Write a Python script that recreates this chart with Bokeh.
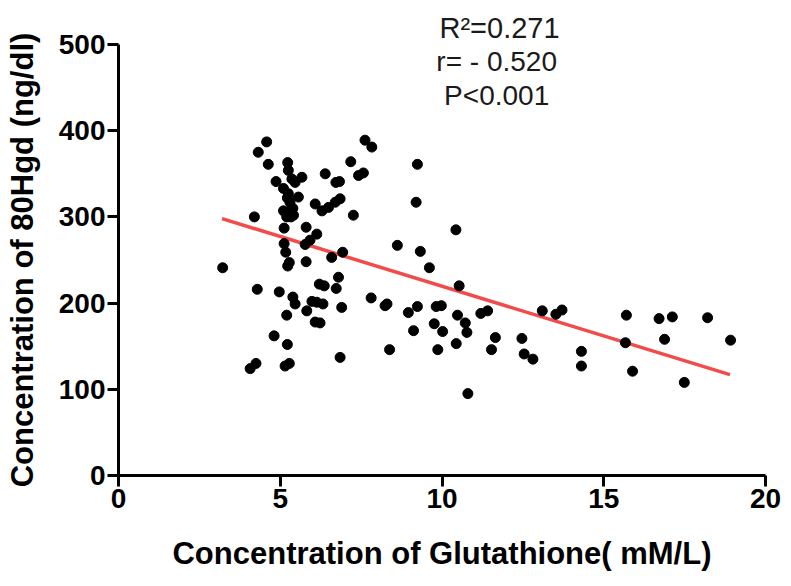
from bokeh.plotting import figure
from bokeh.models import Range1d, Label, FixedTicker, Title
from bokeh.embed import file_html
from bokeh.resources import INLINE

# Glutathione (mM/L)
gsh = [4.58, 4.32, 4.63, 5.23, 5.25, 4.87, 5.36, 5.67, 5.46, 5.10, 5.25, 5.22, 5.56, 5.30,
       5.10, 5.25, 5.41, 5.20, 5.39, 5.33, 4.20, 6.39, 6.83, 6.72, 7.18, 7.42, 7.57, 7.62,
       7.83, 6.85, 6.70, 6.08, 6.29, 6.49, 7.26, 5.12, 5.80, 6.13, 5.92, 5.77, 5.12, 5.17,
       3.22, 5.28, 5.23, 5.80, 6.59, 6.93, 6.80, 6.21, 6.36, 6.73, 4.29, 4.97, 5.39, 5.46,
       5.98, 6.13, 6.32, 5.82, 6.90, 7.81, 5.20, 6.08, 6.23, 4.81, 5.22, 4.25, 4.07, 5.28,
       5.15, 6.85,
       9.24, 9.20, 10.43, 8.62, 9.33, 9.61, 10.53, 8.24, 8.30, 8.96, 9.24, 9.82, 9.98,
       10.48, 10.72, 9.76, 10.02, 9.12, 10.77, 11.20, 11.41, 11.65, 8.38, 9.87, 10.44,
       11.53, 12.47, 12.54, 12.81, 10.80, 13.10, 13.52, 13.71, 14.31, 14.31, 15.70, 15.67,
       15.89, 16.71, 17.12, 16.88, 17.49, 18.21, 18.92]
# 8OHdG (ng/dl)
ohdg = [387, 375, 361, 363, 354, 341, 344, 346, 340, 333, 327, 322, 323, 317,
        307, 305, 302, 300, 310, 300, 300, 350, 341, 340, 364, 348, 351, 389,
        381, 321, 317, 315, 307, 311, 302, 287, 288, 280, 273, 268, 269, 259,
        241, 247, 243, 248, 253, 259, 230, 222, 220, 217, 216, 213, 207, 199,
        202, 201, 199, 191, 195, 206, 186, 178, 177, 162, 152, 130, 124, 130,
        127, 137,
        361, 317, 285, 267, 260, 241, 220, 197, 199, 189, 196, 196, 197,
        186, 177, 176, 167, 168, 166, 188, 191, 160, 146, 146, 153,
        146, 159, 141, 135, 95, 191, 187, 192, 144, 127, 186, 154,
        121, 182, 184, 158, 108, 183, 157]

# fitted regression line end points
fit_x = [3.2, 18.9]
fit_y = [298, 117]

x_ticks = [0, 5, 10, 15, 20]
y_ticks = [0, 100, 200, 300, 400, 500]

stats = ["R\u00b2=0.271", "r= - 0.520", "P<0.001"]

W, H = 790, 585
p = figure(width=W, height=H, output_backend="svg", toolbar_location=None,
           x_range=Range1d(0, 20), y_range=Range1d(0, 500),
           min_border_left=118, min_border_right=W - 765, min_border_top=44,
           min_border_bottom=H - 475)
p.outline_line_color = None
p.grid.visible = False
p.background_fill_color = "white"
p.border_fill_color = "white"

for ax in (p.xaxis[0], p.yaxis[0]):
    ax.axis_line_width = 3
    ax.axis_line_color = "black"
    ax.major_tick_line_width = 3
    ax.major_tick_line_color = "black"
    ax.major_tick_in = 0
    ax.major_tick_out = 11
    ax.minor_tick_line_color = None
    ax.major_label_text_font = "Liberation Sans"
    ax.major_label_text_font_style = "bold"
    ax.major_label_text_font_size = "28px"
    ax.major_label_text_color = "black"
    ax.axis_label_text_font = "Liberation Sans"
    ax.axis_label_text_font_style = "bold"
    ax.axis_label_text_font_size = "31px"
    ax.axis_label_text_color = "black"
    ax.major_label_standoff = 2

p.xaxis.ticker = FixedTicker(ticks=x_ticks)
p.yaxis.ticker = FixedTicker(ticks=y_ticks)
p.xaxis.axis_label = "Concentration of Glutathione( mM/L)"
p.yaxis.axis_label = "Concentration of 80Hgd (ng/dl)"
p.xaxis.axis_label_standoff = 25
p.yaxis.axis_label_standoff = 16

p.line(fit_x, fit_y, line_color="#f24b4b", line_width=3.5)
p.scatter(gsh, ohdg, size=10, color="black")

# first statistic sits above the plot frame -> title; the others inside the frame
p.add_layout(Title(text=stats[0], align="left", offset=321, standoff=1,
                   text_font="Liberation Sans", text_font_size="29px",
                   text_font_style="normal", text_color="#1a1a1a"), "above")
for txt, yy in zip(stats[1:], [480, 441]):
    p.add_layout(Label(x=11.69, y=yy, text=txt, text_align="center", text_baseline="alphabetic",
                       text_font="Liberation Sans", text_font_size="28px", text_color="#1a1a1a"))

open("out.html", "w").write(file_html(p, INLINE))
